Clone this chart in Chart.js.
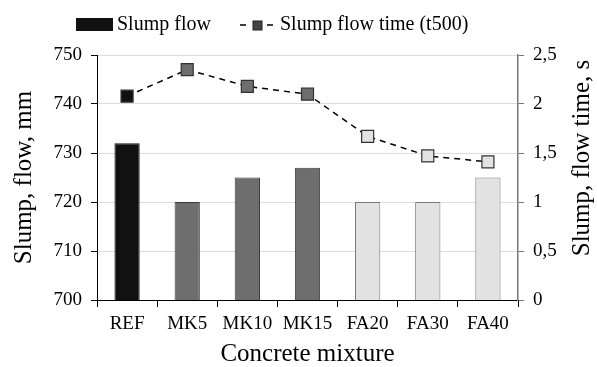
<!DOCTYPE html>
<html>
<head>
<meta charset="utf-8">
<script src="https://cdn.jsdelivr.net/npm/chart.js@4.4.1/dist/chart.umd.min.js"></script>
<style>
  html, body { margin: 0; padding: 0; background: #fff; }
  #wrap { width: 597px; height: 367px; position: relative; }
</style>
</head>
<body>
<div id="wrap"><canvas id="chart" width="597" height="367"></canvas></div>
<script>
// Concrete mixtures and measured values
const mixtures = ['REF', 'MK5', 'MK10', 'MK15', 'FA20', 'FA30', 'FA40'];
const slumpFlow = [732, 720, 725, 727, 720, 720, 725];          // mm
const slumpFlowTime = [2.08, 2.35, 2.18, 2.10, 1.67, 1.47, 1.41]; // s (t500)
const flowTicks = [700, 710, 720, 730, 740, 750];
const timeTicks = [0, 0.5, 1, 1.5, 2, 2.5];

// Fill by mixture group: reference, metakaolin, fly ash
const groupFill = m => m === 'REF' ? '#111111' : (m.startsWith('MK') ? '#6e6e6e' : '#e2e2e2');
const groupEdge = m => m === 'REF' ? '#111111' : (m.startsWith('MK') ? '#3a3a3a' : '#7a7a7a');

const FONT = "'Liberation Serif', 'Times New Roman', serif";

// Legend and right-hand axis title drawn on the canvas
const decor = {
  id: 'decor',
  afterDraw(chart) {
    const ctx = chart.ctx;
    ctx.save();
    // bar legend swatch
    ctx.fillStyle = '#111111';
    ctx.fillRect(76, 18, 37, 13);
    ctx.fillStyle = '#000';
    ctx.font = '20px ' + FONT;
    ctx.textBaseline = 'middle';
    ctx.textAlign = 'left';
    ctx.fillText('Slump flow', 117, 25);
    // line legend: dash, square, dash
    ctx.strokeStyle = '#000';
    ctx.lineWidth = 1.5;
    ctx.beginPath();
    ctx.moveTo(240, 25); ctx.lineTo(246, 25);
    ctx.moveTo(267, 25); ctx.lineTo(273, 25);
    ctx.stroke();
    ctx.fillStyle = '#444';
    ctx.fillRect(253, 21, 9, 9);
    ctx.strokeStyle = '#222';
    ctx.lineWidth = 1;
    ctx.strokeRect(253, 21, 9, 9);
    ctx.fillStyle = '#000';
    ctx.fillText('Slump flow time (t500)', 280, 25);
    // right axis title, reading bottom to top
    ctx.translate(582, 158);
    ctx.rotate(-Math.PI / 2);
    ctx.textAlign = 'center';
    ctx.font = '25px ' + FONT;
    ctx.fillText('Slump, flow time, s', 0, 0);
    ctx.restore();
  }
};

new Chart(document.getElementById('chart'), {
  data: {
    labels: mixtures,
    datasets: [
      {
        type: 'line',
        label: 'Slump flow time (t500)',
        data: slumpFlowTime,
        yAxisID: 'yTime',
        borderColor: '#000',
        borderWidth: 1.5,
        borderDash: [6, 5],
        pointStyle: 'rect',
        pointRadius: 8.5,
        pointBackgroundColor: mixtures.map(groupFill),
        pointBorderColor: '#333',
        pointBorderWidth: 1.2,
        fill: false,
        tension: 0,
        order: 0
      },
      {
        type: 'bar',
        label: 'Slump flow',
        data: slumpFlow,
        yAxisID: 'yFlow',
        backgroundColor: mixtures.map(groupFill),
        borderColor: mixtures.map(groupEdge),
        borderWidth: 1,
        categoryPercentage: 1,
        barPercentage: 0.42,
        order: 1
      }
    ]
  },
  options: {
    responsive: false,
    animation: false,
    layout: { padding: { top: 55, left: 0, right: 0, bottom: 0 } },
    plugins: { legend: { display: false }, tooltip: { enabled: false } },
    scales: {
      x: {
        grid: { offset: true, drawOnChartArea: false, tickLength: 7, tickColor: '#000', color: '#000' },
        border: { color: '#000', width: 1 },
        ticks: { color: '#000', font: { family: FONT, size: 19 }, padding: 6, maxRotation: 0 },
        title: { display: true, text: 'Concrete mixture', color: '#000', font: { family: FONT, size: 25, lineHeight: 1 }, padding: { top: 6, bottom: 0 } },
        afterFit(s) { s.height = 67; }
      },
      yFlow: {
        position: 'left',
        min: 700, max: 750,
        afterBuildTicks(s) { s.ticks = flowTicks.map(v => ({ value: v })); },
        grid: { color: '#dddddd', tickColor: '#000', tickLength: 6, lineWidth: 1 },
        border: { color: '#000', width: 1 },
        ticks: { color: '#000', font: { family: FONT, size: 19 }, padding: 9 },
        title: { display: true, text: 'Slump, flow, mm', color: '#000', font: { family: FONT, size: 25, lineHeight: 1 }, padding: { top: 12, bottom: 0 } },
        afterFit(s) { s.width = 97; }
      },
      yTime: {
        position: 'right',
        min: 0, max: 2.5,
        afterBuildTicks(s) { s.ticks = timeTicks.map(v => ({ value: v })); },
        grid: { drawOnChartArea: false, tickColor: '#777', tickLength: 6 },
        border: { color: '#777', width: 1.5 },
        ticks: { color: '#000', font: { family: FONT, size: 19 }, padding: 9,
                 callback: v => String(v).replace('.', ',') },
        afterFit(s) { s.width = 79; }
      }
    }
  },
  plugins: [decor]
});
</script>
</body>
</html>
